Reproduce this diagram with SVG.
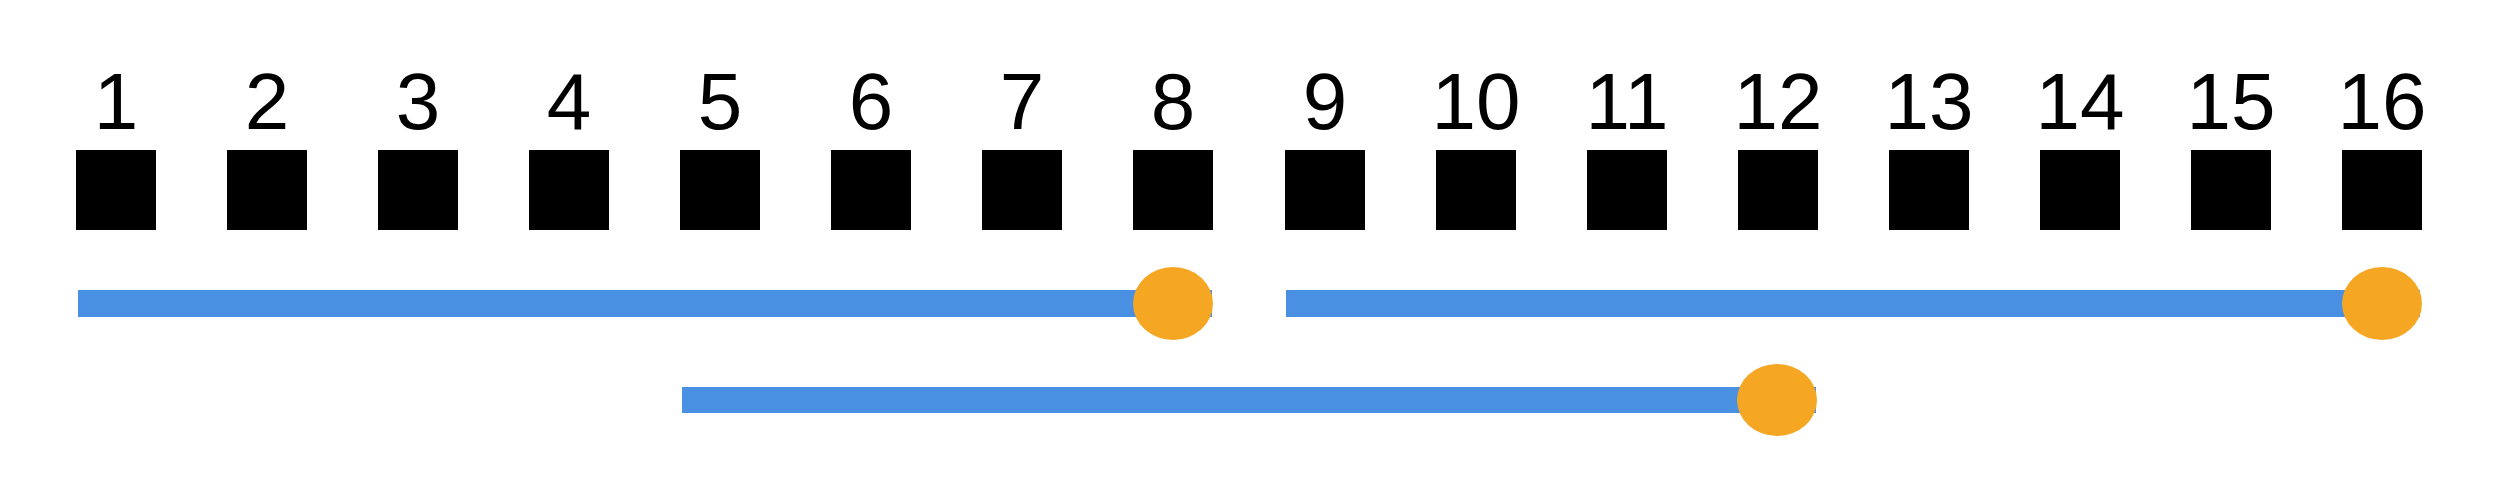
<svg xmlns="http://www.w3.org/2000/svg" width="2505" height="482" viewBox="0 0 2505 482">
<style>
.sq{fill:#000}
.lbl{font-family:"Liberation Sans",Arial,sans-serif;font-size:80px;fill:#000;text-anchor:middle}
.bar{fill:#4A90E2}
.dot{fill:#F5A623}
</style>
<rect width="2505" height="482" fill="#fff"/>
<g id="node1"><rect class="sq" x="76" y="150" width="80" height="80"/><text class="lbl" x="116" y="129">1</text></g>
<g id="node2"><rect class="sq" x="227" y="150" width="80" height="80"/><text class="lbl" x="267" y="129">2</text></g>
<g id="node3"><rect class="sq" x="378" y="150" width="80" height="80"/><text class="lbl" x="418" y="129">3</text></g>
<g id="node4"><rect class="sq" x="529" y="150" width="80" height="80"/><text class="lbl" x="569" y="129">4</text></g>
<g id="node5"><rect class="sq" x="680" y="150" width="80" height="80"/><text class="lbl" x="720" y="129">5</text></g>
<g id="node6"><rect class="sq" x="831" y="150" width="80" height="80"/><text class="lbl" x="871" y="129">6</text></g>
<g id="node7"><rect class="sq" x="982" y="150" width="80" height="80"/><text class="lbl" x="1022" y="129">7</text></g>
<g id="node8"><rect class="sq" x="1133" y="150" width="80" height="80"/><text class="lbl" x="1173" y="129">8</text></g>
<g id="node9"><rect class="sq" x="1285" y="150" width="80" height="80"/><text class="lbl" x="1325" y="129">9</text></g>
<g id="node10"><rect class="sq" x="1436" y="150" width="80" height="80"/><text class="lbl" x="1476" y="129">10</text></g>
<g id="node11"><rect class="sq" x="1587" y="150" width="80" height="80"/><text class="lbl" x="1627" y="129">11</text></g>
<g id="node12"><rect class="sq" x="1738" y="150" width="80" height="80"/><text class="lbl" x="1778" y="129">12</text></g>
<g id="node13"><rect class="sq" x="1889" y="150" width="80" height="80"/><text class="lbl" x="1929" y="129">13</text></g>
<g id="node14"><rect class="sq" x="2040" y="150" width="80" height="80"/><text class="lbl" x="2080" y="129">14</text></g>
<g id="node15"><rect class="sq" x="2191" y="150" width="80" height="80"/><text class="lbl" x="2231" y="129">15</text></g>
<g id="node16"><rect class="sq" x="2342" y="150" width="80" height="80"/><text class="lbl" x="2382" y="129">16</text></g>
<g id="connectors">
<rect class="bar" x="78" y="290" width="1134" height="27"/>
<ellipse class="dot" cx="1173" cy="303.5" rx="40" ry="36.5"/>
<rect class="bar" x="1286" y="290" width="1134" height="27"/>
<ellipse class="dot" cx="2382" cy="303.5" rx="40" ry="36.5"/>
<rect class="bar" x="682" y="387" width="1134" height="26"/>
<ellipse class="dot" cx="1777" cy="400" rx="40" ry="36"/>
</g>
</svg>
